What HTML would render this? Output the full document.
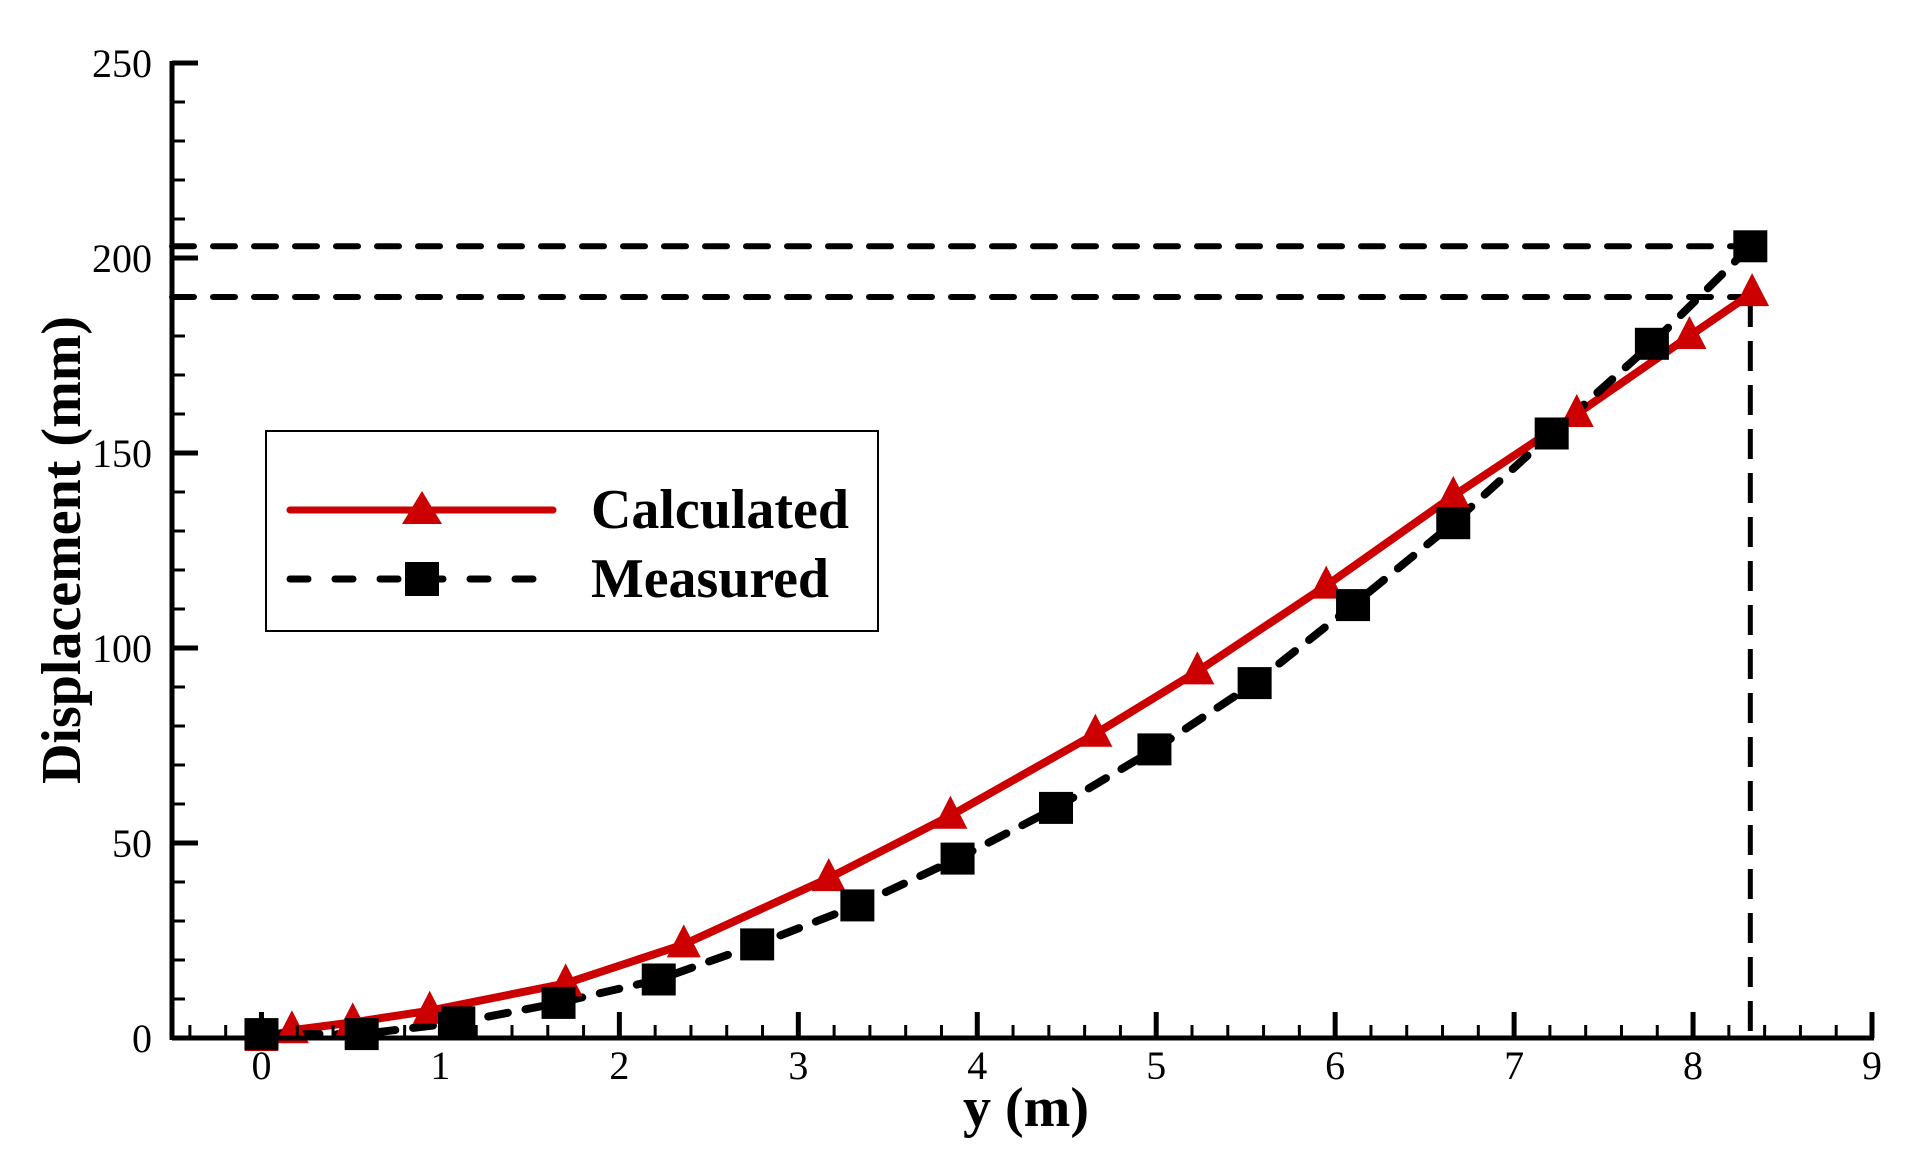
<!DOCTYPE html>
<html><head><meta charset="utf-8"><style>
html,body{margin:0;padding:0;background:#fff;}
svg{display:block;font-family:"Liberation Serif",serif;}
</style></head><body>
<svg id="chart" width="1928" height="1152" viewBox="0 0 1928 1152" xmlns="http://www.w3.org/2000/svg">
<g id="grid"></g><g id="series"></g><g id="axes"></g>
<g id="legend">
<rect x="266" y="431" width="612" height="200" fill="#fff" stroke="#000" stroke-width="2"/>
<g>
<line x1="290" y1="510" x2="553" y2="510" stroke="#cc0000" stroke-width="7" stroke-linecap="round"/>
<polygon points="422,491 402,524 442,524" fill="#cc0000"/>
<text x="591" y="528" font-size="56" font-weight="bold" textLength="258" lengthAdjust="spacingAndGlyphs">Calculated</text>
</g>
<g>
<line x1="290" y1="579" x2="545" y2="579" stroke="#000" stroke-width="7" stroke-linecap="round" stroke-dasharray="18,27"/>
<rect x="405" y="562" width="34" height="34" fill="#000"/>
<text x="591" y="597" font-size="56" font-weight="bold" textLength="238" lengthAdjust="spacingAndGlyphs">Measured</text>
</g>
</g>
<text x="1026" y="1126" font-size="56" font-weight="bold" text-anchor="middle" textLength="126" lengthAdjust="spacingAndGlyphs">y (m)</text>
<text x="0" y="0" font-size="56" font-weight="bold" text-anchor="middle" textLength="468" lengthAdjust="spacingAndGlyphs" transform="translate(80,550) rotate(-90)">Displacement (mm)</text>
</svg>
<script>
const calcX = [0, 0.17, 0.51, 0.94, 1.70, 2.36, 3.17, 3.85, 4.66, 5.23, 5.95, 6.66, 7.35, 7.98, 8.33];
const calcY = [0, 2, 4, 7, 14, 24, 41, 57, 78, 94, 116, 139, 160, 180, 191];
const measX = [0, 0.56, 1.10, 1.66, 2.22, 2.77, 3.33, 3.89, 4.44, 4.99, 5.55, 6.10, 6.66, 7.21, 7.77, 8.32];
const measY = [1, 1, 4, 9, 15, 24, 34, 46, 59, 74, 91, 111, 132, 155, 178, 203];
const xTicks = [0,1,2,3,4,5,6,7,8,9];
const yTicks = [0,50,100,150,200,250];
const refY = [203, 190];
const refX = [8.32];

const NS="http://www.w3.org/2000/svg";
const X0=172, XMIN=-0.5, XMAX=9, X1=1872, Y0=1038, Y1=63, YMAX=250;
const sx=v=>X0+(v-XMIN)/(XMAX-XMIN)*(X1-X0);
const sy=v=>Y0-v/YMAX*(Y0-Y1);
function mk(tag,attrs,parent){const e=document.createElementNS(NS,tag);for(const k in attrs)e.setAttribute(k,attrs[k]);parent.appendChild(e);return e;}
const axes=document.getElementById('axes'), series=document.getElementById('series'), grid=document.getElementById('grid');

refY.forEach(v=>{const l=mk('line',{x1:X0,y1:sy(v),x2:sx(refX[0]),y2:sy(v),stroke:'#000','stroke-width':6,'stroke-dasharray':'22,19','stroke-linecap':'round'},grid);

});
refX.forEach(v=>{const l=mk('line',{x1:sx(v),y1:sy(refY[1]),x2:sx(v),y2:Y0,stroke:'#000','stroke-width':5,'stroke-dasharray':'30,14'},grid);

});

const cl=mk('polyline',{points:calcX.map((x,i)=>sx(x)+','+sy(calcY[i])).join(' '),fill:'none',stroke:'#cc0000','stroke-width':8,'stroke-linejoin':'round'},series);


const ml=mk('polyline',{points:measX.map((x,i)=>sx(x)+','+sy(measY[i])).join(' '),fill:'none',stroke:'#000','stroke-width':8,'stroke-dasharray':'20,18','stroke-linecap':'round'},series);


calcX.forEach((x,i)=>{const cx=sx(x),cy=sy(calcY[i]);
const p=mk('polygon',{points:`${cx},${cy-20} ${cx-17},${cy+13} ${cx+17},${cy+13}`,fill:'#cc0000'},series);

});
measX.forEach((x,i)=>{const cx=sx(x),cy=sy(measY[i]);
const r=mk('rect',{x:cx-17,y:cy-16,width:34,height:32,fill:'#000'},series);

});

const xa=mk('line',{x1:X0,y1:Y0,x2:X1+2,y2:Y0,stroke:'#000','stroke-width':5},axes);


const ya=mk('line',{x1:X0,y1:Y0+2,x2:X0,y2:Y1-2,stroke:'#000','stroke-width':5},axes);


for(let v=-0.4;v<=9.001;v+=0.2){const major=Math.abs(v-Math.round(v))<0.01;const x=sx(v);
mk('line',{x1:x,y1:Y0,x2:x,y2:Y0-(major?26:13),stroke:'#000','stroke-width':major?5:3},axes);}
for(let v=10;v<=250;v+=10){const major=v%50===0;const y=sy(v);
mk('line',{x1:X0,y1:y,x2:X0+(major?26:13),y2:y,stroke:'#000','stroke-width':major?5:3},axes);}
xTicks.forEach(v=>{const t=mk('text',{x:sx(v),y:Y0+41,'font-size':40,'text-anchor':'middle'},axes);t.textContent=v;

});
yTicks.forEach(v=>{const t=mk('text',{x:X0-20,y:sy(v)+14,'font-size':40,'text-anchor':'end'},axes);t.textContent=v;

});
</script>
</body></html>
